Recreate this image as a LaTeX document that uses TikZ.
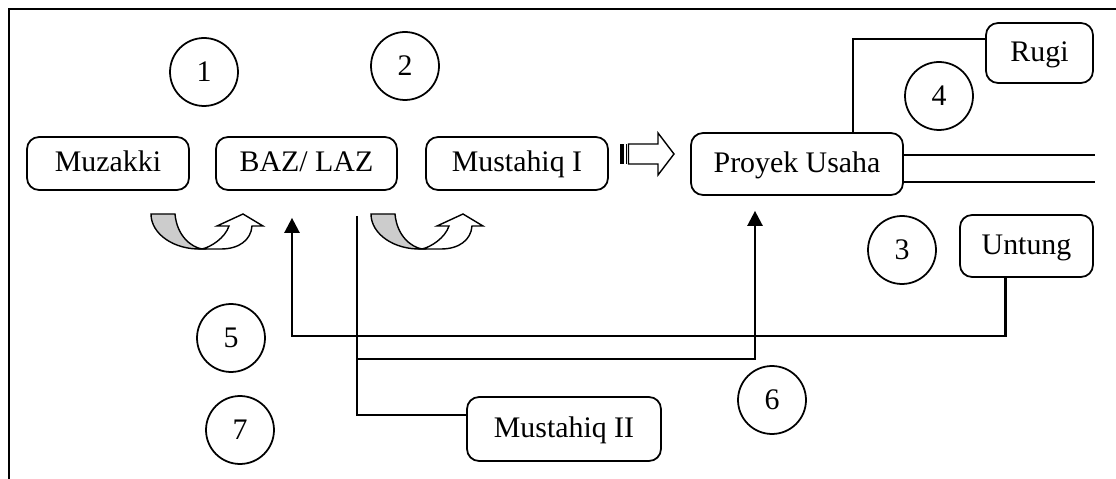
\documentclass[tikz,border=0pt]{standalone}
\usepackage{fontspec}
\setmainfont{Liberation Serif}
\usetikzlibrary{calc,arrows.meta}
\begin{document}
\begin{tikzpicture}[
    x=0.02cm,y=-0.02cm,
    box/.style={draw,rounded corners=0.24cm,line width=1pt,inner sep=2pt,text height=13pt,text depth=3.5pt,minimum height=1.06cm,font=\fontsize{17}{20}\selectfont},
    num/.style={draw,circle,line width=1pt,minimum size=1.36cm,inner sep=0pt,font=\fontsize{17}{20}\selectfont},
    line/.style={line width=1pt},
    arr/.style={line width=1.4pt,-{Triangle[length=0.3cm,width=0.3cm]}},
    uturn/.pic={
        \draw[line width=0.8pt,fill=gray!40] (0,0) -- (24,0) .. controls (26,22) and (40,33) .. (51,35) .. controls (23,36) and (0,20) .. cycle;
        \draw[line width=0.8pt,fill=white] (51,35) .. controls (60,33) and (74,24) .. (78,12) -- (66,12) -- (92,0) -- (112,12) -- (101,12) .. controls (100,26) and (88,35) .. (70,35) -- cycle;
    }
]
\useasboundingbox (0,0) rectangle (1116,479);
\draw[line] (9,479) -- (9,9) -- (1116,9);
\node[box,minimum width=3.24cm] (muzakki) at (108,163.5) {Muzakki};
\node[box,minimum width=3.62cm] (baz) at (306.5,163.5) {BAZ/ LAZ};
\node[box,minimum width=3.64cm] (mus1) at (517,163.5) {Mustahiq I};
\node[box,minimum width=4.24cm,minimum height=1.24cm] (proyek) at (797,164) {Proyek Usaha};
\node[box,minimum width=2.14cm,minimum height=1.2cm] (rugi) at (1039.5,53) {Rugi};
\node[box,minimum width=2.66cm,minimum height=1.24cm] (untung) at (1026.5,246) {Untung};
\node[box,minimum width=3.88cm,minimum height=1.28cm] (mus2) at (564,429) {Mustahiq II};
\node[num] (n1) at (204,72) {1};
\node[num] (n2) at (405,66) {2};
\node[num] (n3) at (902,250) {3};
\node[num] (n4) at (939,96) {4};
\node[num] (n5) at (231,338) {5};
\node[num] (n6) at (772,400) {6};
\node[num] (n7) at (240,430) {7};
\pic at (151,214) {uturn};
\pic at (371,214) {uturn};
\fill (620,144) rectangle (624,164);
\fill (625.5,144) rectangle (627,164);
\draw[line width=0.8pt] (628.5,144) -- (658,144) -- (658,133) -- (674,154) -- (658,175) -- (658,164) -- (628.5,164) -- cycle;
\coordinate (end1) at (1095,155);
\coordinate (end2) at (1095,182);
\coordinate (bend5) at (292,336);
\coordinate (split) at (357,359);
\coordinate (bend7) at (357,415);
\draw[line] ($(proyek.north)+(56,0)$) |- ($(rugi.west)+(0,-14)$);
\draw[line] (proyek.east |- end1) -- (end1);
\draw[line] (proyek.east |- end2) -- (end2);
\draw[arr] ($(untung.south)+(-21,0)$) |- (bend5) -- ($(baz.south -| bend5)+(0,27)$);
\draw[line] ($(baz.south -| split)+(0,25)$) -- (bend7) -- (bend7 -| mus2.west);
\draw[arr] (split) -| ($(proyek.south)+(-42,15)$);
\end{tikzpicture}
\end{document}
